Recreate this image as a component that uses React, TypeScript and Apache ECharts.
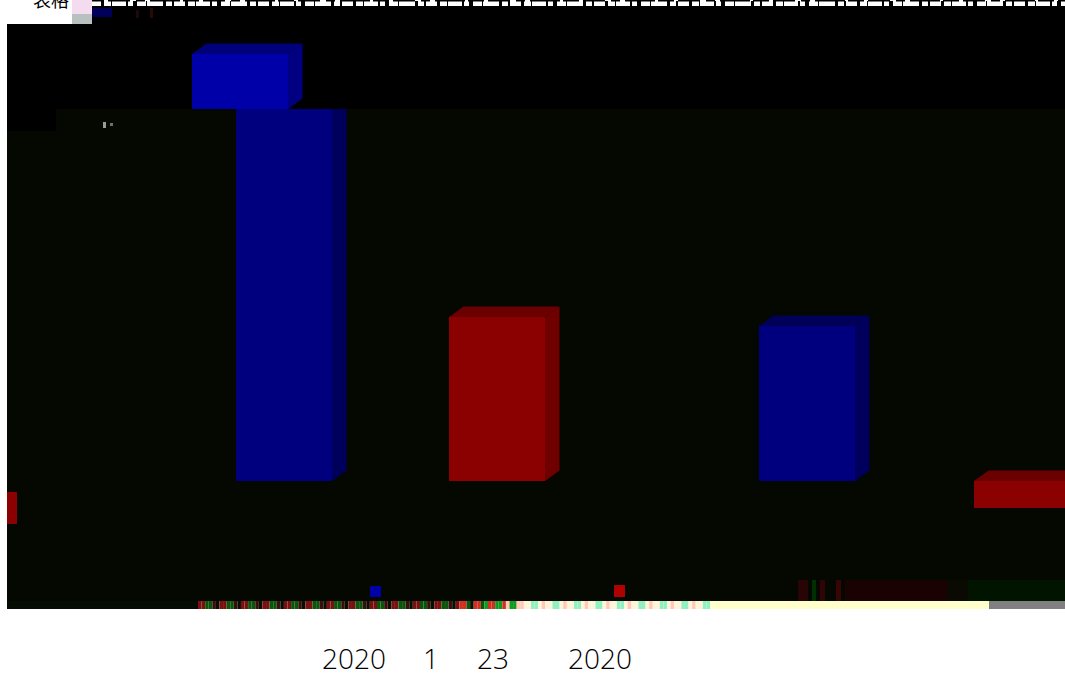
import React, { useEffect, useRef } from "react";
import * as echarts from "echarts";

// Bars: [x position, low value, high value, visible faces: 0 all, 1 no top face, 2 front only].
const blueBars = [[284, 0, 3.72, 1], [807, 0, 1.55, 0]];
const upperBlueBars = [[240, 3.72, 4.27, 0]];
const redBars = [[-31, -0.43, -0.11, 2], [497, 0, 1.64, 0], [1022, -0.27, 0, 0]];

const captionLeft = "表格";
const footerTexts = [
  { text: "2020", x: 322 },
  { text: "1", x: 423 },
  { text: "23", x: 477 },
  { text: "2020", x: 568 },
];

// One letter per stripe of the strip along the foot of the picture.
const stripLetters =
  "rrggdkrrggdkrrggdkrrggdkrrggdkrrggdkrrggdkrrggdkrrggdkrrggdkrrggdkrrggdkr" +
  "RRgkRRgGRRGGRpGGp" +
  "pwwmmwpwwmmwpwwmmwpwwmmwpwwmmwpwwmmwpwwmmwpwwmmwpwwmm";
const stripPalette: Record<string, string> = {
  k: "#051005", r: "#7a1010", d: "#3a0e0a", g: "#0a560a",
  R: "#d03020", G: "#109a20", p: "#ffc8b8", w: "#fff4d8", m: "#90f0c0",
};
const stripCells = stripLetters.split("");

const rect = (x: number, y: number, width: number, height: number, fill: string) => ({
  type: "rect", shape: { x, y, width, height }, style: { fill }, silent: true,
});

const barRenderer = (front: string, top: string, side: string) => (params: any, api: any) => {
  const x = api.value(0);
  const faces = api.value(3);
  const low = api.coord([x, api.value(1)]);
  const high = api.coord([x, api.value(2)]);
  const w = api.size([96, 0])[0];
  const left = low[0] - w / 2;
  const right = low[0] + w / 2;
  const dx = 14.5;
  const dy = 10.5;
  const children: any[] = [];
  if (faces === 0) {
    children.push({ type: "polygon", shape: { points: [[left, high[1]], [left + dx, high[1] - dy], [right + dx, high[1] - dy], [right, high[1]]] }, style: { fill: top } });
  }
  if (faces < 2) {
    const sideTop = faces === 0 ? high[1] - dy : high[1];
    children.push({ type: "polygon", shape: { points: [[right, high[1]], [right + dx, sideTop], [right + dx, low[1] - dy], [right, low[1]]] }, style: { fill: side } });
  }
  children.push({ type: "rect", shape: { x: left, y: high[1], width: w, height: low[1] - high[1] }, style: { fill: front } });
  return { type: "group", children };
};

const barSeries = (name: string, data: number[][], front: string, top: string, side: string) => ({
  type: "custom", name, data, clip: true, xAxisIndex: 0, yAxisIndex: 0,
  encode: { x: 0, y: [1, 2] }, renderItem: barRenderer(front, top, side),
});

export default function App() {
  const ref = useRef<HTMLDivElement>(null);
  useEffect(() => {
    const chart = echarts.init(ref.current!, undefined, { renderer: "svg" });
    chart.setOption({
      animation: false,
      backgroundColor: "#ffffff",
      grid: [
        { left: 7, top: 24, width: 1058, height: 585, show: false },
        { left: 198, top: 601, width: 512, height: 8, show: false },
      ],
      xAxis: [
        { type: "value", gridIndex: 0, min: 7, max: 1065, show: false },
        { type: "category", gridIndex: 1, data: stripCells.map((_, i) => String(i)), show: false },
      ],
      yAxis: [
        { type: "value", gridIndex: 0, min: -1.28, max: 4.57, show: false },
        { type: "value", gridIndex: 1, min: 0, max: 1, show: false },
      ],
      series: [
        barSeries("blue", blueBars, "#00007f", "#000058", "#00005c"),
        barSeries("blueUpper", upperBlueBars, "#0000a8", "#00007a", "#000080"),
        barSeries("red", redBars, "#8b0000", "#6a0000", "#700000"),
        {
          type: "bar", xAxisIndex: 1, yAxisIndex: 1, barWidth: "100%", silent: true,
          data: stripCells.map((c) => ({ value: 1, itemStyle: { color: stripPalette[c] } })),
        },
      ],
      graphic: [
        rect(60, 0, 1005, 6, "#ffffff"),
        { type: "line", shape: { x1: 88, y1: 0.5, x2: 1065, y2: 0.5 }, silent: true, style: { stroke: "#000000", lineWidth: 2, lineDash: [16, 4, 22, 6, 9, 5, 30, 3] } },
        { type: "line", shape: { x1: 88, y1: 3.5, x2: 1065, y2: 3.5 }, silent: true, style: { stroke: "#000000", lineWidth: 5, lineDash: [2, 11, 3, 7, 1, 14, 2, 5, 4, 9, 1, 16, 3, 6] } },
        rect(92, 6, 973, 18, "#000000"),
        rect(7, 24, 1058, 85, "#000000"),
        rect(7, 109, 1058, 492, "#050800"),
        rect(7, 601, 191, 8, "#040c04"),
        rect(7, 109, 49, 22, "#000000"),
        rect(72, 0, 20, 14, "#f4dcf0"),
        rect(72, 14, 20, 10, "#b8c0c0"),
        rect(92, 8, 20, 9, "#00005a"),
        rect(136, 10, 3, 8, "#200808"),
        rect(150, 8, 3, 10, "#280808"),
        rect(103, 122, 3, 6, "#9a9a90"),
        rect(110, 123, 3, 3, "#70706a"),
        rect(798, 580, 10, 21, "#280404"),
        rect(812, 580, 4, 21, "#003000"),
        rect(820, 580, 5, 21, "#300404"),
        rect(836, 580, 5, 21, "#380404"),
        rect(845, 580, 102, 21, "#1a0202"),
        rect(947, 580, 21, 21, "#0a0a02"),
        rect(968, 580, 97, 21, "#001400"),
        rect(710, 601, 279, 8, "#ffffcc"),
        rect(989, 601, 76, 8, "#808080"),
        rect(370, 586, 11, 11, "#0000a8"),
        rect(614, 585, 11, 12, "#b00000"),
        {
          type: "text", x: 33, y: -10, silent: true,
          style: { text: captionLeft, fill: "#000000", font: '18px "Noto Sans CJK SC"' },
        },
        ...footerTexts.map((t) => ({
          type: "text", x: t.x, y: 644, silent: true,
          style: { text: t.text, fill: "#000000", font: '300 28px "Open Sans"' },
        })),
      ],
    });
    return () => chart.dispose();
  }, []);
  return <div ref={ref} style={{ position: "fixed", left: 0, top: 0, width: 1065, height: 673 }} />;
}
